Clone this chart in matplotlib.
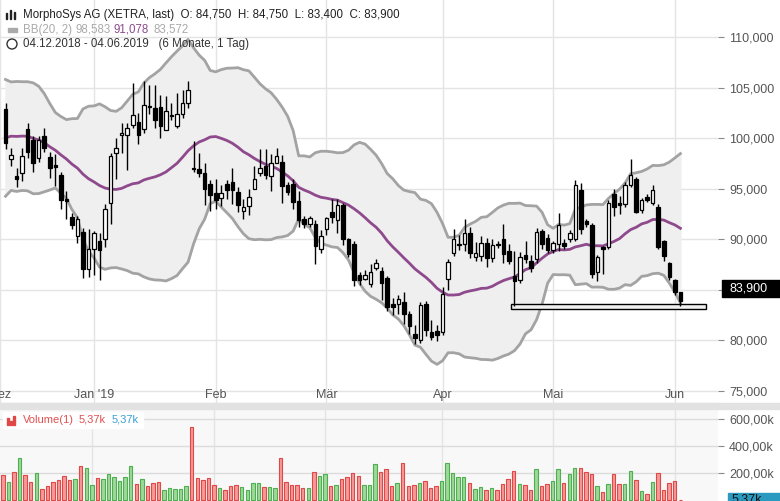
import matplotlib
matplotlib.use("Agg")
import matplotlib.pyplot as plt
from matplotlib.patches import Rectangle, Ellipse
import numpy as np
import pandas as pd

plt.rcParams["font.family"] = "Liberation Sans"

month_labels = ["Dez", "Jan '19", "Feb", "Mär", "Apr", "Mai", "Jun"]
month_idx = [-1, 16, 38, 58, 79, 99, 121]

opens = [102.9,97.9,96.3,96.5,100.9,99.8,98.0,100.2,98.1,97.3,96.4,94.0,92.2,90.3,90.7,87.1,89.0,89.8,90.0,93.6,
         98.5,100.3,100.3,101.3,101.6,100.9,103.2,103.0,103.1,100.8,102.2,101.2,102.4,103.5,97.0,96.9,96.5,95.5,94.6,94.1,
         95.5,95.7,94.7,92.8,93.3,95.0,96.5,97.2,96.3,97.5,97.6,95.4,95.5,93.8,92.0,91.5,91.5,89.0,91.0,92.7,
         91.9,93.4,90.0,89.5,86.5,86.1,85.6,87.2,86.9,86.2,83.6,83.6,83.8,82.6,80.6,80.0,83.6,80.8,80.9,80.8,
         86.1,88.6,89.4,89.5,90.6,88.2,88.3,89.6,88.1,89.5,90.0,88.8,86.4,86.0,88.4,87.8,88.0,90.8,90.1,88.9,
         89.5,89.6,90.0,90.0,94.9,91.8,91.4,86.8,89.2,89.2,94.5,93.6,93.5,95.4,96.0,92.9,94.2,93.6,93.2,89.8,
         87.6,86.0,84.75]
closes = [99.5,98.3,96.0,98.2,98.6,97.5,99.8,99.0,97.0,97.1,93.9,93.8,91.4,92.0,87.1,89.0,90.6,88.9,93.0,98.2,
          99.0,100.5,101.0,102.3,100.3,103.3,103.1,101.8,101.2,102.7,102.3,102.4,103.5,104.8,96.9,96.5,95.0,94.4,93.9,94.6,
          94.9,94.9,93.4,93.2,94.2,96.0,97.0,96.4,97.5,98.2,95.3,94.7,93.7,91.9,91.5,92.1,89.3,90.3,92.1,92.2,
          93.4,90.0,88.5,86.0,86.0,86.5,86.8,87.6,85.7,83.3,83.3,84.1,82.6,81.4,80.2,83.5,81.0,80.3,80.5,84.6,
          87.7,90.0,89.5,90.6,88.6,88.6,89.6,88.1,89.4,89.4,88.5,87.8,85.9,88.2,88.0,87.2,90.7,89.5,88.9,89.6,
          91.4,89.3,90.6,95.4,91.0,91.5,86.6,88.2,89.0,93.6,93.2,93.4,95.4,96.4,92.7,93.9,93.9,94.9,89.2,88.3,
          86.3,84.8,83.9]
highs = [103.5,99.0,97.0,99.0,101.5,100.2,100.2,101.0,98.6,98.4,96.6,94.8,92.6,92.3,91.1,91.0,90.8,90.6,93.5,98.5,
         100.0,101.5,101.5,105.5,102.5,105.6,105.3,105.3,104.3,104.2,103.5,104.5,104.8,105.6,99.7,98.5,97.5,95.9,96.0,95.4,
         95.9,97.0,95.2,94.0,95.0,97.2,98.9,98.9,98.4,99.0,98.3,95.7,96.0,94.8,92.3,92.3,91.9,90.9,92.2,94.0,
         94.0,93.6,90.1,89.8,86.8,87.0,87.5,88.0,87.3,86.4,84.2,84.5,84.8,82.9,81.5,83.8,83.9,82.0,81.5,85.3,
         88.0,91.0,90.4,92.0,91.2,89.7,90.3,90.1,90.0,89.8,91.5,89.5,88.8,88.7,89.8,88.4,91.1,91.0,90.5,89.8,
         92.6,90.0,90.9,95.9,95.6,92.0,91.6,88.4,89.3,93.9,95.0,94.3,95.7,97.9,96.2,94.1,94.5,95.4,93.5,89.9,
         87.7,86.1,84.75]
lows = [98.9,97.2,95.2,95.8,98.0,96.6,97.6,98.6,96.1,95.3,93.0,92.0,91.0,89.6,86.2,86.3,86.5,86.0,89.2,91.5,
        96.0,98.5,96.8,101.0,99.4,100.5,102.4,101.0,100.0,101.2,101.8,101.0,102.0,103.0,96.6,96.2,93.4,92.8,93.0,93.3,
        94.0,93.5,92.7,92.0,92.4,95.0,96.3,96.0,94.8,97.5,93.6,94.4,93.0,91.2,91.1,91.2,87.5,88.6,90.4,91.6,
        90.6,89.4,88.2,85.4,85.5,86.0,85.3,87.0,84.0,82.9,82.5,82.6,81.6,80.6,79.6,79.7,80.4,80.0,79.9,80.5,
        85.0,88.3,88.9,88.8,88.1,87.8,87.8,87.3,87.7,89.1,87.6,87.5,83.4,85.7,87.6,86.8,87.6,89.0,88.6,88.6,
        88.8,89.0,89.7,89.8,90.5,91.2,86.2,85.9,86.6,89.0,92.3,92.5,93.2,95.2,92.6,92.6,93.7,93.4,89.0,87.8,
        86.0,84.5,83.4]
volumes_k = [186,138,210,313,186,138,198,83,107,138,150,179,150,157,251,234,114,162,157,193,174,
             143,169,251,121,155,107,126,133,78,90,83,83,107,539,162,150,162,114,90,78,
             107,112,97,78,126,126,97,97,90,313,133,114,114,90,90,205,179,193,107,114,
             157,169,198,179,114,114,270,205,227,107,126,277,107,114,126,143,90,107,143,277,
             198,174,174,126,85,97,73,90,78,119,155,217,119,109,78,227,102,121,143,227,
             126,191,234,239,210,191,107,61,119,191,119,119,215,150,66,47,133,198,78,126,143,5]
# closes before 04.12.2018 (warm-up for BB(20,2))
pre_closes = [95.0,96.5,97.5,99.0,101.5,103.0,104.5,105.0,104.0,103.0,102.0,101.5,100.0,99.0,98.0,97.0,96.0,98.0,100.5]

n = len(closes)
volumes_k = volumes_k[:n]
x = np.arange(n)
allc = pd.Series(pre_closes + closes)
mid = allc.rolling(20).mean().values[len(pre_closes):]
sd = allc.rolling(20).std(ddof=0).values[len(pre_closes):]
upper, lower = mid + 2 * sd, mid - 2 * sd

W, H = 780, 501
fig = plt.figure(figsize=(7.8, 5.01), dpi=100)
ax = fig.add_axes([0, (H - 403) / H, 718 / W, 403 / H])
axv = fig.add_axes([0, 0, 718 / W, (H - 409) / H])
fig.patches.append(Rectangle((0, (H - 409) / H), 1, 6 / H, transform=fig.transFigure, color="#e2e2e2", zorder=0))

xl = (-0.54, 128.8)
ax.set_xlim(*xl)
ax.set_ylim(73.8, 113.66)
for a in (ax, axv):
    for s in a.spines.values():
        s.set_visible(False)
    a.yaxis.tick_right()
    a.tick_params(axis="y", direction="out", length=4, color="#888", labelsize=9, labelcolor="#555", pad=4)
    for mi in month_idx:
        a.axvline(mi, color="#e4e4e4", lw=1, zorder=0)
ax.set_yticks(range(75, 111, 5))
ax.set_yticklabels([f"{v},000" for v in range(75, 111, 5)])
for v in range(75, 111, 5):
    ax.axhline(v, color="#e4e4e4", lw=1, zorder=0)
ax.set_xticks(month_idx)
ax.set_xticklabels([])
ax.tick_params(axis="x", direction="out", length=4, color="#666")
ax.spines["bottom"].set_visible(True)
ax.spines["bottom"].set_color("#cccccc")
for mi, lab in zip(month_idx, month_labels):
    ax.text(mi, 0.02, lab, transform=ax.get_xaxis_transform(), ha="center", va="center", fontsize=9, color="#555")

# Bollinger band
ax.fill_between(x, lower, upper, color="#efefef", zorder=1)
ax.plot(x, upper, color="#a3a3a3", lw=2, zorder=2)
ax.plot(x, lower, color="#a3a3a3", lw=2, zorder=2)
ax.plot(x, mid, color="#8e4a8c", lw=2, zorder=2)

# support box
ax.add_patch(Rectangle((91.4, 83.1), 126.6 - 91.4, 0.5, facecolor="#f0f0f0", edgecolor="black", lw=1, zorder=3))

# candles
for i in range(n):
    o, c, h, l = opens[i], closes[i], highs[i], lows[i]
    ax.vlines(i, l, h, color="black", lw=1, zorder=4)
    up = c >= o
    ax.add_patch(Rectangle((i - 0.32, min(o, c)), 0.64, max(abs(c - o), 0.12),
                           facecolor="white" if up else "black", edgecolor="black", lw=0.9, zorder=5))

# volume
axv.set_xlim(*xl)
axv.set_ylim(-5, 670)
axv.set_facecolor("#f8f8f8")
axv.set_xticks([])
axv.set_yticks([200, 400, 600])
axv.set_yticklabels(["200,00k", "400,00k", "600,00k"])
for v in (200, 400, 600):
    axv.axhline(v, color="#dcdcdc", lw=1, zorder=0)
cols = ["#9fd89a" if closes[i] >= opens[i] else "#f59a98" for i in range(n)]
edges = ["#4caf50" if closes[i] >= opens[i] else "#e04848" for i in range(n)]
axv.bar(x, volumes_k, width=0.62, color=cols, edgecolor=edges, lw=0.8, zorder=2)

# legends
fs = 8.3
for k, hh in enumerate((6, 9, 7)):
    fig.patches.append(Rectangle(((6 + 4 * k) / W, 1 - 19 / H), 1.3 / W, hh / H, transform=fig.transFigure, color="#222"))
fig.text(23 / W, 1 - 15 / H, "MorphoSys AG (XETRA, last)  O: 84,750  H: 84,750  L: 83,400  C: 83,900",
         fontsize=fs, color="#222", va="center")
fig.patches.append(Rectangle((8 / W, 1 - 31.5 / H), 9 / W, 3 / H, transform=fig.transFigure, color="#aaa"))
fig.text(23 / W, 1 - 30 / H, "BB(20, 2)", fontsize=fs, color="#aaa", va="center")
fig.text(75 / W, 1 - 30 / H, "98,583", fontsize=fs, color="#aaa", va="center")
fig.text(114 / W, 1 - 30 / H, "91,078", fontsize=fs, color="#8e4a8c", va="center")
fig.text(153 / W, 1 - 30 / H, "83,572", fontsize=fs, color="#aaa", va="center")
fig.patches.append(Ellipse((12 / W, 1 - 44 / H), 10 / W, 10 / H, transform=fig.transFigure, fill=False, ec="#333", lw=1))
fig.text(23 / W, 1 - 44 / H, "04.12.2018 - 04.06.2019   (6 Monate, 1 Tag)", fontsize=fs, color="#333", va="center")

fig.patches.append(Rectangle((3 / W, 1 - 428 / H), 140 / W, 16 / H, transform=fig.transFigure, color="white"))
fig.patches.append(Rectangle((7 / W, 1 - 425 / H), 2 / W, 7 / H, transform=fig.transFigure, color="#e04848"))
fig.patches.append(Rectangle((10 / W, 1 - 425 / H), 2 / W, 4 / H, transform=fig.transFigure, color="#e04848"))
fig.patches.append(Rectangle((13 / W, 1 - 425 / H), 2 / W, 9 / H, transform=fig.transFigure, color="#e04848"))
fig.text(23 / W, 1 - 420 / H, "Volume(1)", fontsize=8, color="#e05050", va="center")
fig.text(79 / W, 1 - 420 / H, "5,37k", fontsize=8, color="#e05050", va="center")
fig.text(112 / W, 1 - 420 / H, "5,37k", fontsize=8, color="#3aa0d0", va="center")

# last price label
fig.patches.append(Rectangle((722 / W, 1 - 297 / H), 58 / W, 17 / H, transform=fig.transFigure, color="black"))
fig.text(729 / W, 1 - 288.5 / H, "83,900", fontsize=9, color="white", va="center")
fig.patches.append(Rectangle((728 / W, 1 - 501 / H), 52 / W, 8 / H, transform=fig.transFigure, color="#2a9ac0"))
fig.text(732 / W, 1 - 500 / H, "5,37k", fontsize=9, color="#111", va="center")

fig.savefig("out.png", dpi=100)
